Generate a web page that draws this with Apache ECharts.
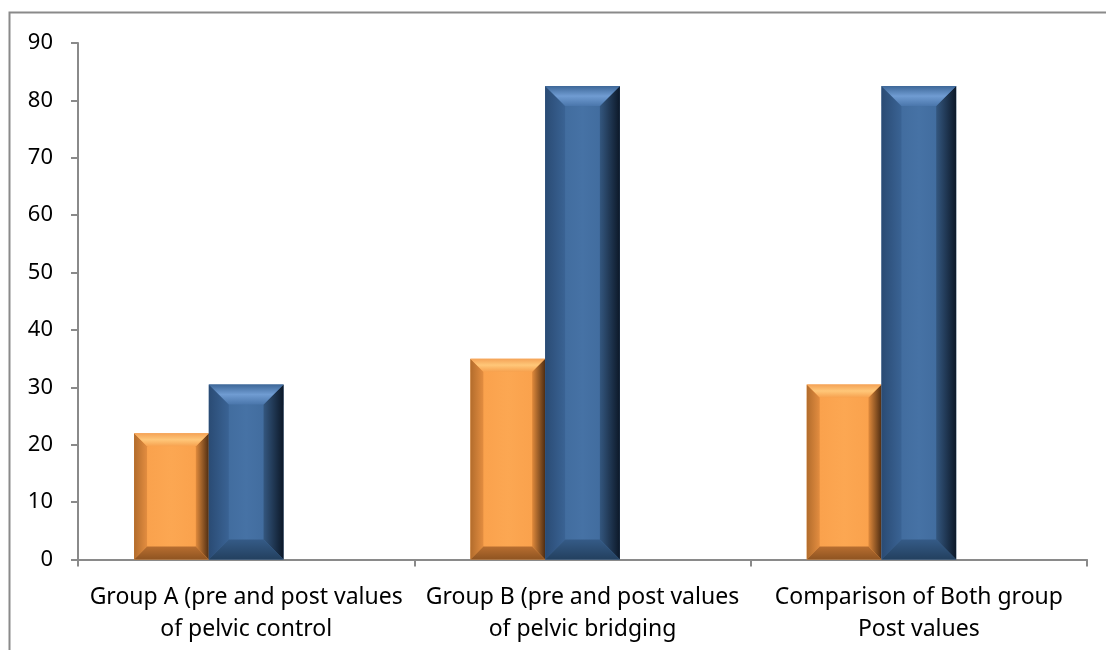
<!DOCTYPE html>
<html>
<head>
<meta charset="utf-8">
<script src="https://cdn.jsdelivr.net/npm/echarts@6/dist/echarts.min.js"></script>
<style>
	html, body { margin: 0; padding: 0; background: #fff; }
	#chart { width: 1106px; height: 650px; }
</style>
</head>
<body>
<div id="chart"></div>
<script>
var categories = [
	'Group A (pre and post values\nof pelvic control',
	'Group B (pre and post values\nof pelvic bridging',
	'Comparison of Both group\nPost values'
];
var series1Values = [22, 35, 30.5];
var series2Values = [30.5, 82.5, 82.5];
var series3Values = [null, null, null]; // empty third series, keeps the Excel slot
var yTicks = { min: 0, max: 90, interval: 10 };

// colours of the bevelled bars
var palette = [{
	face: '#f99f4a', faceMid: '#fca752',
	left: ['#b26c2c', '#e38d40'], right: ['#e08a3c', '#4f2d12'],
	top: ['#f4a256', '#ffc779', '#f7a24f'], bottom: ['#b86e30', '#8f5421'],
	bevel: 13
}, {
	face: '#3d6798', faceMid: '#4672a5',
	left: ['#2a4b74', '#3a6394'], right: ['#34577f', '#0c1828'],
	top: ['#3d6798', '#709cd2', '#4a76ab'], bottom: ['#355b87', '#23405f'],
	bevel: 20
}];

function lin(x0, y0, x1, y1, cols) {
	var stops = cols.map(function(c, i) {
		return { offset: i / (cols.length - 1), color: c };
	});
	return new echarts.graphic.LinearGradient(x0, y0, x1, y1, stops);
}

function bevelBar(slot) {
	return function(params, api) {
		var v = api.value(1);
		if (v == null || isNaN(v)) return;
		var base = api.coord([api.value(0), 0]);
		var top = api.coord([api.value(0), v]);
		var catW = api.size([1, 0])[0];
		var w = catW * 0.2222;
		var x = base[0] - 1.5 * w + slot * w;
		var y = top[1], yb = base[1], h = yb - y;
		var p = palette[slot];
		var b = Math.min(p.bevel, h / 2, w / 2);
		return {
			type: 'group',
			children: [{
				type: 'rect',
				shape: { x: x, y: y, width: w, height: h },
				style: { fill: lin(0, 0, 1, 0, [p.face, p.faceMid, p.face]) }
			}, {
				type: 'polygon',
				shape: { points: [[x, y], [x + b, y + b], [x + b, yb - b], [x, yb]] },
				style: { fill: lin(0, 0, 1, 0, p.left) }
			}, {
				type: 'polygon',
				shape: { points: [[x + w, y], [x + w - b, y + b], [x + w - b, yb - b], [x + w, yb]] },
				style: { fill: lin(0, 0, 1, 0, p.right) }
			}, {
				type: 'polygon',
				shape: { points: [[x, y], [x + w, y], [x + w - b, y + b], [x + b, y + b]] },
				style: { fill: lin(0, 0, 0, 1, p.top) }
			}, {
				type: 'polygon',
				shape: { points: [[x, yb], [x + w, yb], [x + w - b, yb - b], [x + b, yb - b]] },
				style: { fill: lin(0, 0, 0, 1, p.bottom) }
			}]
		};
	};
}

function pairs(arr) {
	return arr.map(function(v, i) { return [i, v]; });
}

var chart = echarts.init(document.getElementById('chart'));
chart.setOption({
	backgroundColor: '#fff',
	animation: false,
	textStyle: { fontFamily: 'Noto Sans' },
	graphic: [{
		type: 'rect',
		shape: { x: 9.5, y: 12.5, width: 1300, height: 900 },
		style: { fill: 'none', stroke: '#8a8a8a', lineWidth: 2 },
		silent: true
	}],
	grid: {
		left: 78,
		right: 19,
		top: 43,
		bottom: 90.5
	},
	xAxis: {
		type: 'category',
		data: categories,
		boundaryGap: true,
		axisLine: { lineStyle: { color: '#8a8a8a', width: 2 } },
		axisTick: { show: true, length: 7, lineStyle: { color: '#8a8a8a', width: 2 } },
		axisLabel: {
			color: '#000',
			fontSize: 23,
			lineHeight: 32,
			margin: 22,
			interval: 0
		},
		splitLine: { show: false }
	},
	yAxis: {
		type: 'value',
		min: yTicks.min,
		max: yTicks.max,
		interval: yTicks.interval,
		axisLine: { show: true, lineStyle: { color: '#8a8a8a', width: 2 } },
		axisTick: { show: true, length: 7, lineStyle: { color: '#8a8a8a', width: 2 } },
		axisLabel: { color: '#000', fontSize: 22, margin: 25 },
		splitLine: { show: false }
	},
	series: [{
		name: 'Series 1',
		type: 'custom',
		renderItem: bevelBar(0),
		encode: { x: 0, y: 1 },
		data: pairs(series1Values),
		z: 3
	}, {
		name: 'Series 2',
		type: 'custom',
		renderItem: bevelBar(1),
		encode: { x: 0, y: 1 },
		data: pairs(series2Values),
		z: 3
	}, {
		name: 'Series 3',
		type: 'custom',
		renderItem: bevelBar(2),
		encode: { x: 0, y: 1 },
		data: pairs(series3Values),
		z: 3
	}]
});
</script>
</body>
</html>
